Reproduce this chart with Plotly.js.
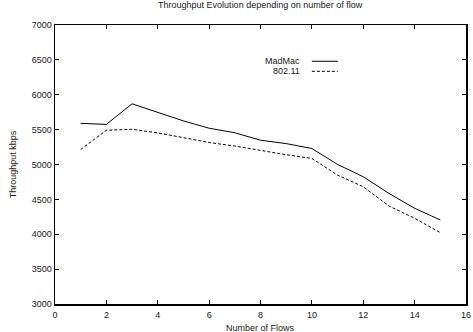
<!DOCTYPE html>
<html><head><meta charset="utf-8">
<script src="https://cdn.plot.ly/plotly-3.0.1.min.js"></script>
<style>body{margin:0;padding:0;background:#fff}#c{width:473px;height:332px}</style>
</head><body><div id="c"></div>
<script>
const flows = [1,2,3,4,5,6,7,8,9,10,11,12,13,14,15];
const madmac = [5590,5575,5870,5750,5625,5520,5455,5348,5300,5229,5001,4824,4586,4372,4205];
const ieee80211 = [5215,5491,5505,5453,5385,5315,5265,5201,5140,5087,4848,4681,4405,4229,4023];
const seriesNames = ["MadMac","802.11"];
const xTicks = [0,2,4,6,8,10,12,14,16];
const yTicks = [3000,3500,4000,4500,5000,5500,6000,6500,7000];

const font = {family:"Liberation Sans, Arial, sans-serif", size:9, color:"#222"};
const traces = [
  {x:flows, y:madmac, name:seriesNames[0], mode:"lines", line:{color:"#000", width:1}, showlegend:false},
  {x:flows, y:ieee80211, name:seriesNames[1], mode:"lines", line:{color:"#000", width:1, dash:"3px,2px"}, showlegend:false}
];
const axisCommon = {showgrid:false, zeroline:false, showline:true, linecolor:"#000", linewidth:1.5,
  mirror:"allticks", ticks:"inside", ticklen:4, tickwidth:1.2, tickcolor:"#000", tickfont:font};
const layout = {
  width:473, height:332,
  margin:{l:55, r:7, t:24.5, b:27.6},
  paper_bgcolor:"#fff", plot_bgcolor:"#fff",
  font:font,
  title:{text:"Throughput Evolution depending on number of flow", font:{family:font.family, size:9, color:"#222"}, x:0.55, xanchor:"center", y:0.985, yanchor:"middle"},
  xaxis:Object.assign({}, axisCommon, {range:[0,16], tickvals:xTicks, ticktext:xTicks.map(String), ticklabelstandoff:2}),
  yaxis:Object.assign({}, axisCommon, {range:[3000,7000], tickvals:yTicks, ticktext:yTicks.map(String),
    title:{text:"Throughput kbps", font:font, standoff:13}}),
  annotations:[
    {xref:"paper", yref:"paper", x:0.5, y:0, yshift:-23.5, xanchor:"center", yanchor:"middle", text:"Number of Flows", showarrow:false, font:font},
    {xref:"paper", yref:"paper", x:0.6, y:0.87, xanchor:"right", yanchor:"middle", text:seriesNames[0], showarrow:false, font:font},
    {xref:"paper", yref:"paper", x:0.6, y:0.834, xanchor:"right", yanchor:"middle", text:seriesNames[1], showarrow:false, font:font}
  ],
  shapes:[
    {type:"line", xref:"paper", yref:"paper", x0:0.625, x1:0.688, y0:0.87, y1:0.87, line:{color:"#000", width:1}},
    {type:"line", xref:"paper", yref:"paper", x0:0.625, x1:0.688, y0:0.834, y1:0.834, line:{color:"#000", width:1, dash:"3px,2px"}}
  ]
};
Plotly.newPlot("c", traces, layout, {staticPlot:true, displayModeBar:false});
</script></body></html>
